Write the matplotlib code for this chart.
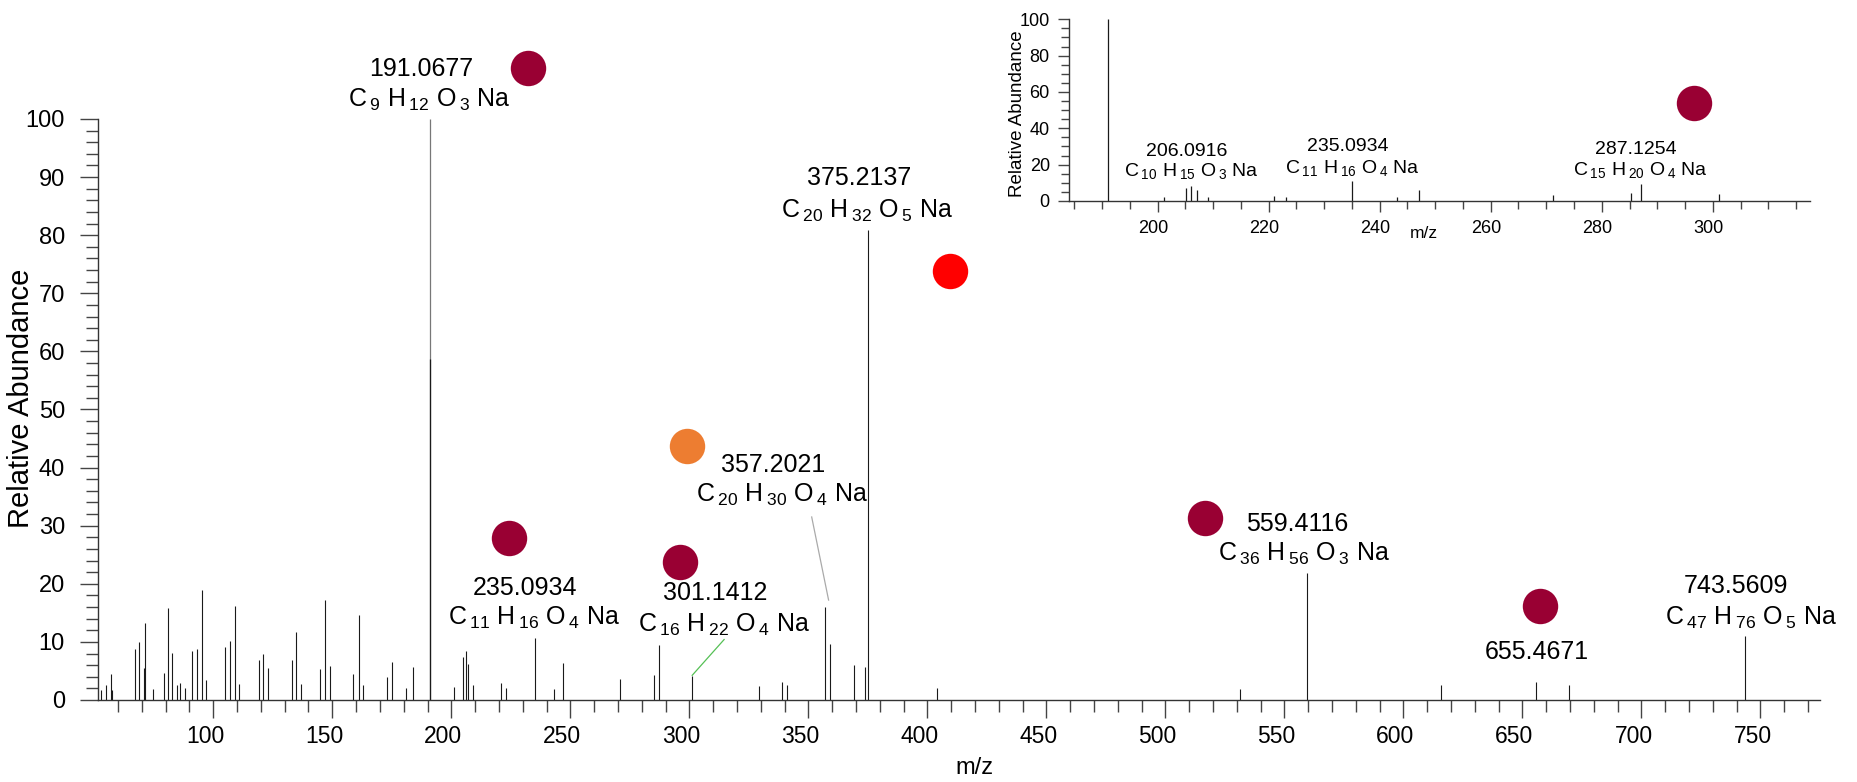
import numpy as np
import matplotlib.pyplot as plt
from matplotlib.ticker import MultipleLocator
from matplotlib.transforms import ScaledTranslation

plt.rcParams['font.family'] = ['Liberation Sans', 'DejaVu Sans']
plt.rcParams['mathtext.fontset'] = 'custom'
plt.rcParams['mathtext.rm'] = 'Liberation Sans'
plt.rcParams['mathtext.it'] = 'Liberation Sans:italic'
plt.rcParams['mathtext.bf'] = 'Liberation Sans:bold'

# full spectrum (m/z, relative abundance)
mz = [52.8, 54.9, 56.9, 57.6, 67.1, 68.9, 71.0, 71.3, 74.8, 79.2,
      81.1, 82.8, 84.9, 85.9, 88.2, 91.0, 93.1, 95.1, 97.0, 104.9,
      107.0, 109.1, 111.0, 119.2, 121.0, 123.0, 133.1, 134.9, 137.0, 144.8,
      147.0, 149.0, 158.8, 161.1, 163.0, 173.1, 175.1, 181.0, 184.0,
      201.1, 205.1, 206.0, 207.1, 209.0, 220.9, 223.1, 235.1, 243.1, 247.0,
      271.0, 285.0, 287.1, 301.2, 329.2, 339.0, 341.1, 357.2, 359.2, 369.1,
      374.0, 375.2, 403.9, 531.4, 559.4, 615.6, 655.5, 669.5, 743.5]
abund = [1.8, 2.5, 4.4, 1.7, 8.7, 9.9, 5.5, 13.3, 1.9, 4.6,
         15.8, 8.1, 2.5, 3.0, 2.1, 8.4, 8.7, 19.0, 3.4, 9.1,
         10.1, 16.2, 2.8, 6.8, 7.9, 5.5, 6.9, 11.7, 2.7, 5.4,
         17.2, 5.8, 4.5, 14.6, 2.6, 4.0, 6.5, 2.0, 5.6,
         2.2, 7.4, 8.4, 6.2, 2.6, 3.0, 2.1, 10.7, 1.9, 6.4,
         3.6, 4.3, 9.5, 4.2, 2.4, 3.1, 2.5, 16.0, 9.6, 6.0,
         5.6, 80.9, 2.0, 1.9, 21.8, 2.5, 3.1, 2.5, 11.0]

# base peak (grey to 100, darker overlay to 58.7)
base_mz = 191.07
base_top = 100.0
base_dark = 58.7

# zoomed spectrum for the inset
mz_in = [191.1, 201.2, 205.1, 206.1, 207.1, 209.1, 221.0, 223.1, 235.1,
         243.2, 247.1, 271.2, 285.2, 287.1, 301.2]
abund_in = [100, 2.4, 7.0, 8.5, 6.1, 2.4, 2.9, 2.2, 10.9,
            2.0, 6.2, 3.3, 4.2, 9.4, 3.9]

# labelled ions: accurate mass and (C, H, O) counts
lab_mass = ["191.0677", "375.2137", "357.2021", "235.0934",
            "301.1412", "559.4116", "655.4671", "743.5609"]
lab_cho = [(9, 12, 3), (20, 32, 5), (20, 30, 4), (11, 16, 4),
           (16, 22, 4), (36, 56, 3), None, (47, 76, 5)]
in_mass = ["206.0916", "235.0934", "287.1254"]
in_cho = [(10, 15, 3), (11, 16, 4), (15, 20, 4)]

# label positions (data coords): mass text, formula text
lab_xy = [(187.2, 108.6), (371.5, 89.8), (335.3, 40.4), (230.9, 19.2),
          (310.7, 18.4), (555.4, 30.3), (656.0, 8.3), (739.6, 19.7)]
form_xy = [(190.6, 103.3), (374.6, 84.2), (338.8, 35.3), (234.8, 14.1),
           (314.5, 12.9), (558.2, 25.2), None, (745.9, 14.2)]
in_lab_xy = [(205.2, 27.1), (234.2, 29.9), (286.1, 28.6)]
in_form_xy = [(206.1, 16.7), (235.0, 18.0), (287.0, 17.1)]

# coloured dots
crimson = '#990033'
dots_x = [232.2, 409.5, 298.9, 224.2, 296.0, 516.6, 657.5]
dots_y = [108.8, 73.8, 43.8, 27.9, 23.8, 31.4, 16.1]
dots_c = [crimson, '#ff0000', '#ed7d31', crimson, crimson, crimson, crimson]


def formula(c, h, o):
    return rf"C$\,_{{{c}}}$ H$\,_{{{h}}}$ O$\,_{{{o}}}$ Na"


def style_axes(ax, fs, maj, mnr, dx):
    for s in ['top', 'right']:
        ax.spines[s].set_visible(False)
    for s in ['left', 'bottom']:
        ax.spines[s].set_color('#333333')
        ax.spines[s].set_linewidth(1.0)
    ax.tick_params(which='both', direction='out', color='#444444', width=1.0)
    ax.tick_params(which='major', length=maj, labelsize=fs)
    ax.tick_params(which='minor', length=mnr)
    off = ScaledTranslation(dx / 100, 0, ax.figure.dpi_scale_trans)
    for lbl in ax.get_xticklabels():
        lbl.set_transform(lbl.get_transform() + off)


fig = plt.figure(figsize=(18.58, 7.82), dpi=100)
ax = fig.add_axes([0.05291, 0.10486, 0.92664, 0.74297])

ax.vlines(mz, 0, abund, color='#1a1a1a', lw=0.8)
ax.vlines(base_mz, 0, base_top, color='#777777', lw=0.9)
ax.vlines(base_mz, 0, base_dark, color='#1a1a1a', lw=0.9)

ax.set_xlim(51.7, 775)
ax.set_ylim(0, 100)
ax.set_xticks(np.arange(100, 751, 50))
ax.xaxis.set_minor_locator(MultipleLocator(10))
ax.set_yticks(np.arange(0, 101, 10))
ax.yaxis.set_minor_locator(MultipleLocator(2))
ax.tick_params(axis='x', pad=5)
ax.tick_params(axis='y', pad=11)
style_axes(ax, 16.5, 13, 8.5, -8)
ax.tick_params(axis='y', labelsize=17)

ax.set_xlabel('m/z', fontsize=17)
ax.xaxis.set_label_coords(0.5086, -0.098)
ax.set_ylabel('Relative Abundance', fontsize=21)
ax.yaxis.set_label_coords(-0.0365, 0.52)

for i, m in enumerate(lab_mass):
    x, y = lab_xy[i]
    ax.text(x, y, m, fontsize=18, ha='center', va='center')
    if lab_cho[i] is not None:
        fx, fy = form_xy[i]
        ax.text(fx, fy, formula(*lab_cho[i]), fontsize=18, ha='center', va='center')

ax.plot([351.4, 358.5], [31.5, 17.2], color='#aaaaaa', lw=0.9)
ax.plot([314.6, 301.2], [10.4, 4.25], color='#55c055', lw=0.9)

for x, y, c in zip(dots_x, dots_y, dots_c):
    ax.plot(x, y, 'o', ms=25.5, color=c, mec='none', clip_on=False)

# inset
axi = fig.add_axes([0.57551, 0.74297, 0.39865, 0.23235])
axi.vlines(mz_in, 0, abund_in, color='#1a1a1a', lw=0.9)
axi.set_xlim(184.1, 317.5)
axi.set_ylim(0, 100)
axi.set_xticks(np.arange(200, 301, 20))
axi.xaxis.set_minor_locator(MultipleLocator(5))
axi.set_yticks(np.arange(0, 101, 20))
axi.yaxis.set_minor_locator(MultipleLocator(5))
axi.tick_params(axis='both', pad=6)
style_axes(axi, 13, 8, 5.5, -4.7)
axi.set_xlabel('m/z', fontsize=12.5)
axi.xaxis.set_label_coords(0.479, -0.135)
axi.set_ylabel('Relative Abundance', fontsize=13.5)
axi.yaxis.set_label_coords(-0.058, 0.48)

for i, m in enumerate(in_mass):
    x, y = in_lab_xy[i]
    axi.text(x, y, m, fontsize=14, ha='center', va='center')
    fx, fy = in_form_xy[i]
    axi.text(fx, fy, formula(*in_cho[i]), fontsize=14, ha='center', va='center')
axi.plot(296.6, 53.8, 'o', ms=25.5, color=crimson, mec='none', clip_on=False)

fig.savefig('out.png', dpi=100)
